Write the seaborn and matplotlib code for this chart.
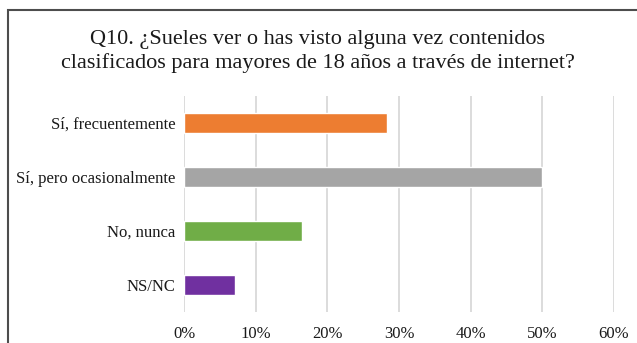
import matplotlib
matplotlib.use("Agg")
import matplotlib.pyplot as plt
from matplotlib.patches import Rectangle
from matplotlib.ticker import PercentFormatter, MultipleLocator
import seaborn as sns
import pandas as pd

categories = ["Sí, frecuentemente", "Sí, pero ocasionalmente", "No, nunca", "NS/NC"]
shares = [0.283, 0.500, 0.165, 0.071]
colors = ["#ED7D31", "#A5A5A5", "#70AD47", "#7030A0"]
title = "Q10. ¿Sueles ver o has visto alguna vez contenidos\nclasificados para mayores de 18 años a través de internet?"

df = pd.DataFrame({"respuesta": categories, "porcentaje": shares})

sns.set_theme(style="white")
plt.rcParams["font.family"] = ["Liberation Serif", "DejaVu Serif"]

W, H = 637, 343
fig = plt.figure(figsize=(W / 100, H / 100), dpi=100)
ax = fig.add_axes([184 / W, 1 - 312 / H, (614 - 184) / W, (312 - 96) / H])

sns.barplot(data=df, y="respuesta", x="porcentaje", hue="respuesta",
            palette=colors, order=categories, hue_order=categories,
            orient="h", width=0.37, legend=False, saturation=1, ax=ax)

ax.set_xlim(0, 0.6)
ax.xaxis.set_major_locator(MultipleLocator(0.1))
ax.xaxis.set_major_formatter(PercentFormatter(1.0, decimals=0))
ax.grid(axis="x", color="#D9D9D9", linewidth=1.3)
ax.set_axisbelow(True)
for s in ax.spines.values():
    s.set_visible(False)
ax.tick_params(axis="both", length=0, labelsize=12, colors="#1a1a1a")
ax.tick_params(axis="x", pad=10)
ax.tick_params(axis="y", pad=6)
ax.set_xlabel("")
ax.set_ylabel("")

fig.text(318 / W, 1 - 51.5 / H, title, ha="center", va="center",
         fontsize=16, color="#1a1a1a", linespacing=1.3)

# outer chart frame, extending past the right and bottom edges
fig.patches.append(Rectangle((7.5 / W, -0.1), 1.2, 1 - 9.5 / H + 0.1,
                             transform=fig.transFigure, fill=False,
                             edgecolor="#4d4d4d", linewidth=1.5))

fig.savefig("out.png", dpi=100)
